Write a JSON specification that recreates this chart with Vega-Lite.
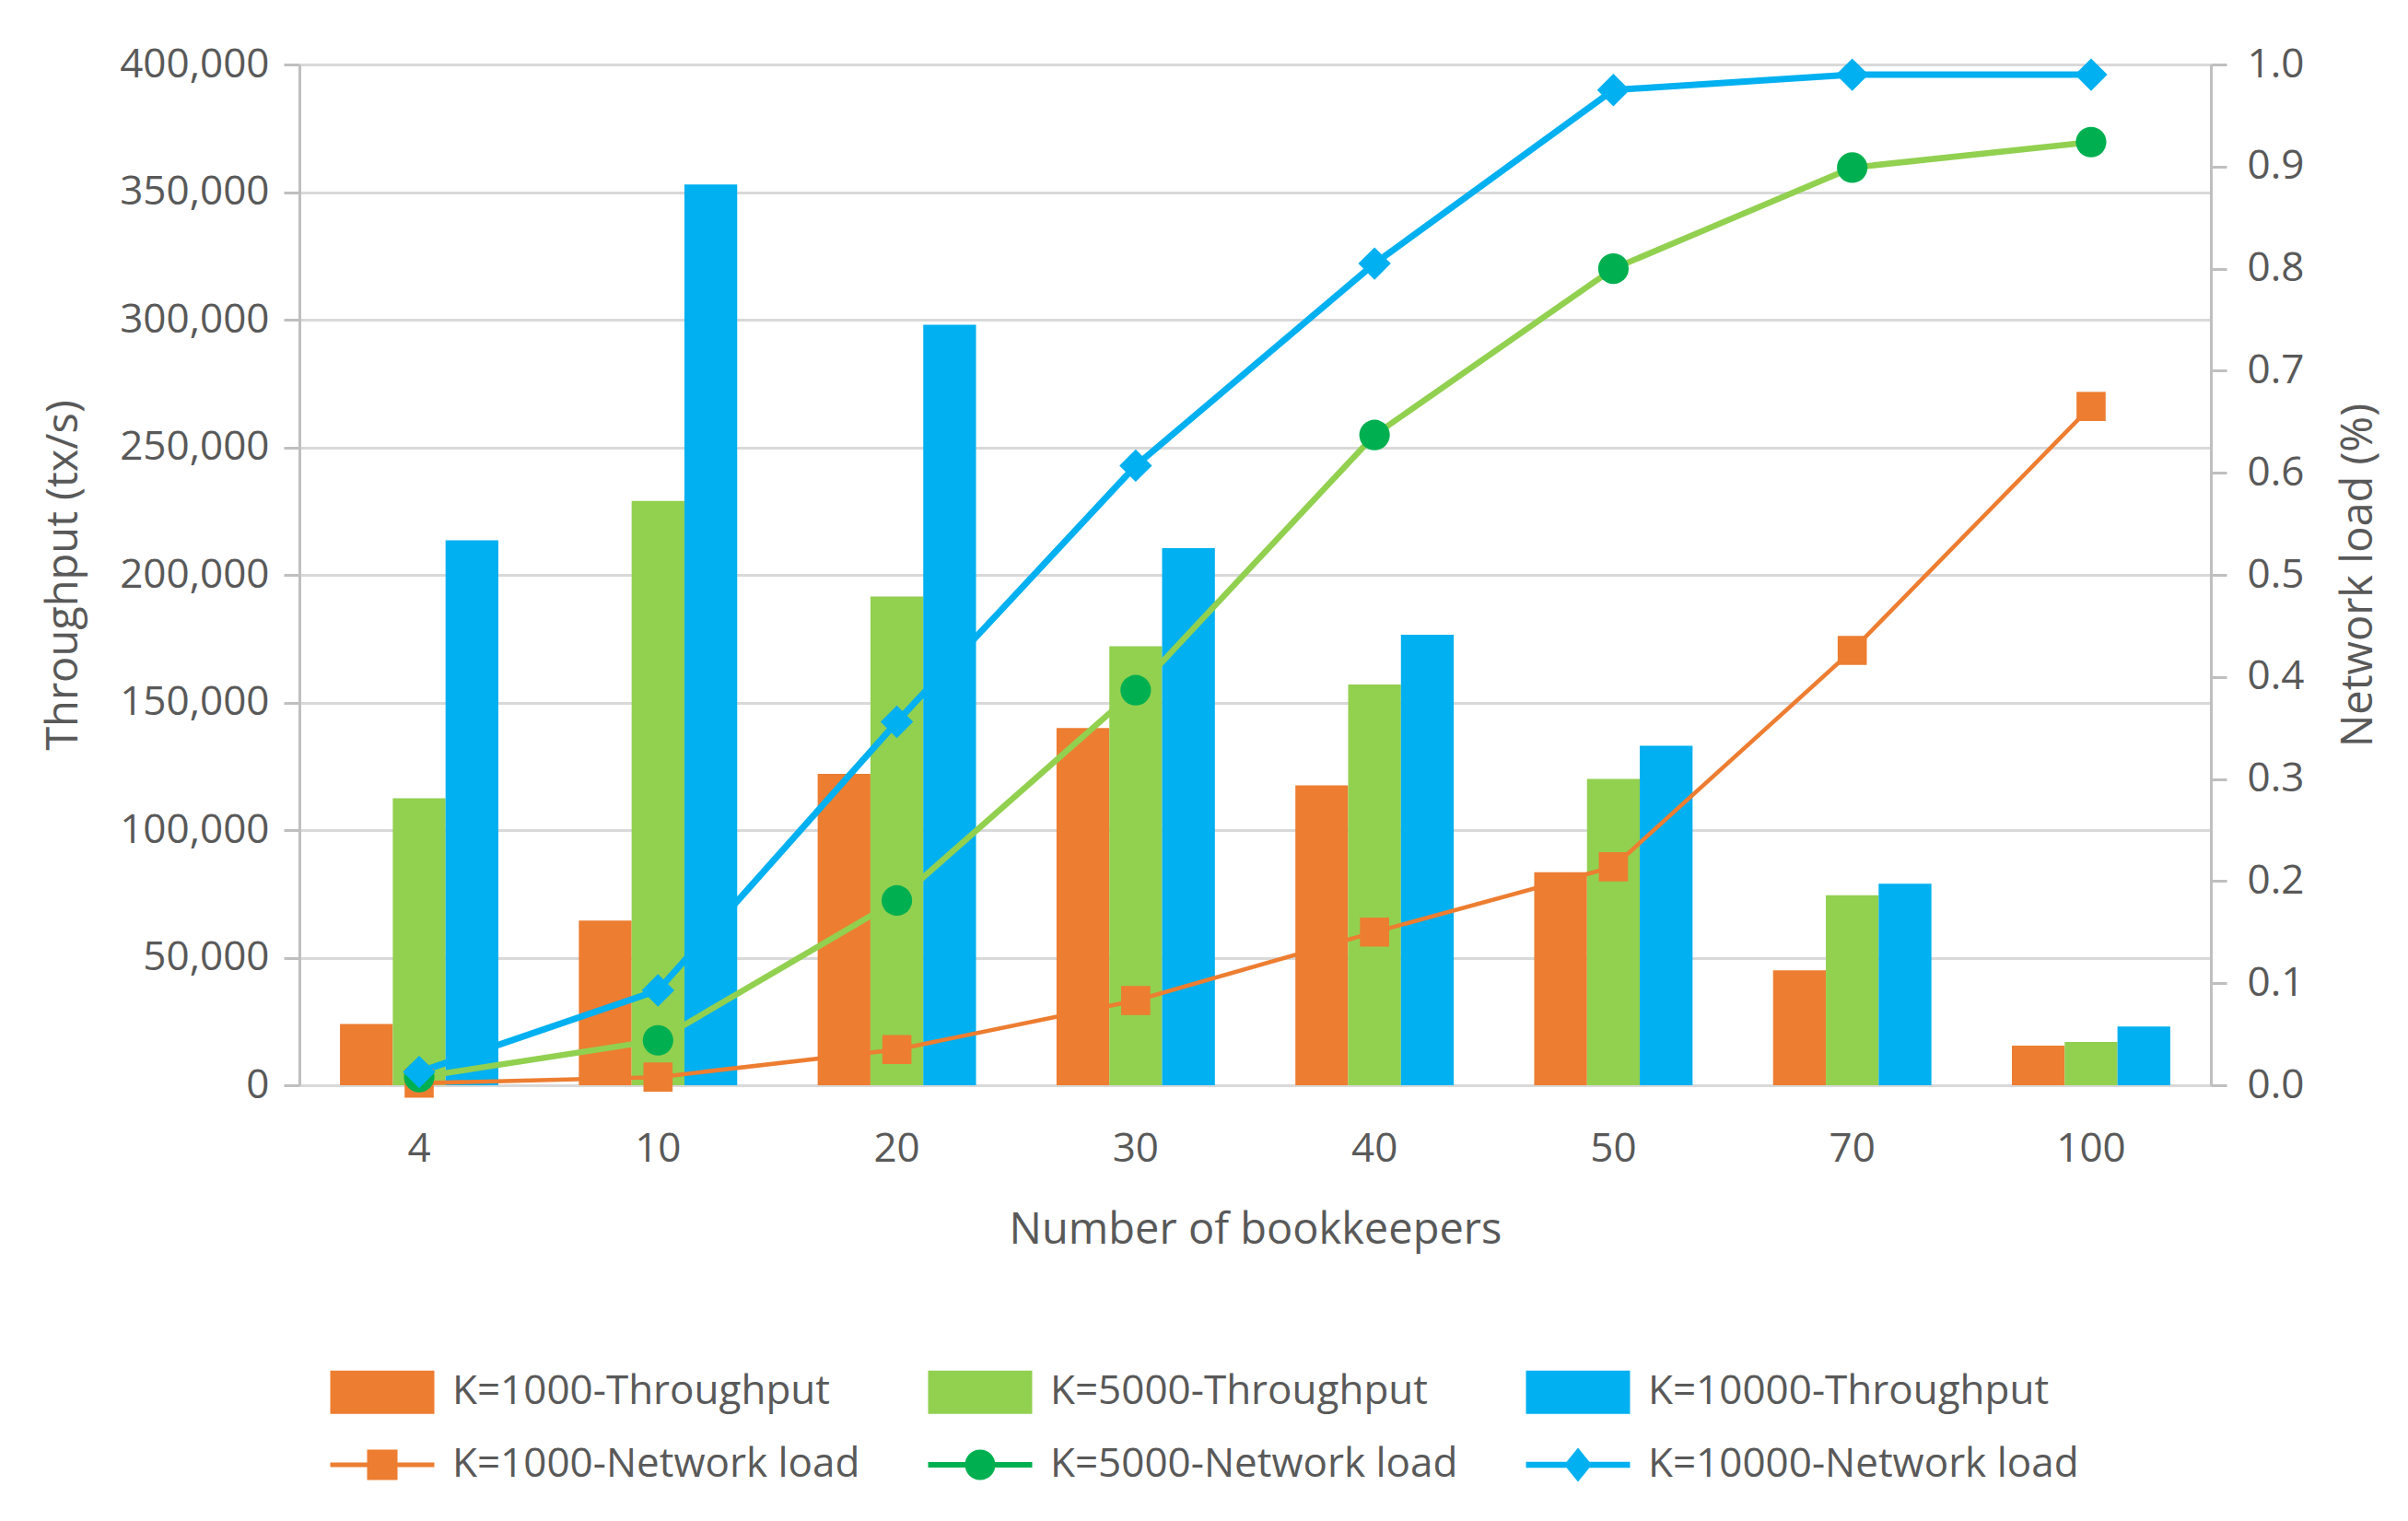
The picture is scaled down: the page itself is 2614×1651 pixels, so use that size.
{
  "$schema": "https://vega.github.io/schema/vega-lite/v6.json",
  "width": 2075,
  "height": 1108,
  "autosize": {"type": "none"},
  "padding": {"left": 325, "top": 70, "right": 214, "bottom": 473},
  "background": "white",
  "config": {
    "view": {"stroke": null},
    "font": "Open Sans",
    "axis": {
      "labelFont": "Open Sans",
      "labelFontSize": 44,
      "labelColor": "#595959",
      "titleFont": "Open Sans",
      "titleFontSize": 47,
      "titleColor": "#595959",
      "titleFontWeight": "normal",
      "domainColor": "#BFBFBF",
      "domainWidth": 3,
      "tickColor": "#BFBFBF",
      "tickWidth": 3,
      "tickSize": 17,
      "gridColor": "#D9D9D9",
      "gridWidth": 3
    }
  },
  "data": {
    "values": [
      {"n": 4, "k": 1000, "tp": 24000, "load": 0.002, "bs": "K=1000-Throughput", "ls": "K=1000-Network load"},
      {"n": 4, "k": 5000, "tp": 112500, "load": 0.008, "bs": "K=5000-Throughput", "ls": "K=5000-Network load"},
      {"n": 4, "k": 10000, "tp": 213500, "load": 0.013, "bs": "K=10000-Throughput", "ls": "K=10000-Network load"},
      {"n": 10, "k": 1000, "tp": 64500, "load": 0.008, "bs": "K=1000-Throughput", "ls": "K=1000-Network load"},
      {"n": 10, "k": 5000, "tp": 229000, "load": 0.044, "bs": "K=5000-Throughput", "ls": "K=5000-Network load"},
      {"n": 10, "k": 10000, "tp": 353000, "load": 0.093, "bs": "K=10000-Throughput", "ls": "K=10000-Network load"},
      {"n": 20, "k": 1000, "tp": 122000, "load": 0.035, "bs": "K=1000-Throughput", "ls": "K=1000-Network load"},
      {"n": 20, "k": 5000, "tp": 191500, "load": 0.181, "bs": "K=5000-Throughput", "ls": "K=5000-Network load"},
      {"n": 20, "k": 10000, "tp": 298000, "load": 0.356, "bs": "K=10000-Throughput", "ls": "K=10000-Network load"},
      {"n": 30, "k": 1000, "tp": 140000, "load": 0.083, "bs": "K=1000-Throughput", "ls": "K=1000-Network load"},
      {"n": 30, "k": 5000, "tp": 172000, "load": 0.387, "bs": "K=5000-Throughput", "ls": "K=5000-Network load"},
      {"n": 30, "k": 10000, "tp": 210500, "load": 0.607, "bs": "K=10000-Throughput", "ls": "K=10000-Network load"},
      {"n": 40, "k": 1000, "tp": 117500, "load": 0.150, "bs": "K=1000-Throughput", "ls": "K=1000-Network load"},
      {"n": 40, "k": 5000, "tp": 157000, "load": 0.637, "bs": "K=5000-Throughput", "ls": "K=5000-Network load"},
      {"n": 40, "k": 10000, "tp": 176500, "load": 0.805, "bs": "K=10000-Throughput", "ls": "K=10000-Network load"},
      {"n": 50, "k": 1000, "tp": 83500, "load": 0.214, "bs": "K=1000-Throughput", "ls": "K=1000-Network load"},
      {"n": 50, "k": 5000, "tp": 120000, "load": 0.800, "bs": "K=5000-Throughput", "ls": "K=5000-Network load"},
      {"n": 50, "k": 10000, "tp": 133000, "load": 0.975, "bs": "K=10000-Throughput", "ls": "K=10000-Network load"},
      {"n": 70, "k": 1000, "tp": 45000, "load": 0.426, "bs": "K=1000-Throughput", "ls": "K=1000-Network load"},
      {"n": 70, "k": 5000, "tp": 74500, "load": 0.899, "bs": "K=5000-Throughput", "ls": "K=5000-Network load"},
      {"n": 70, "k": 10000, "tp": 79000, "load": 0.990, "bs": "K=10000-Throughput", "ls": "K=10000-Network load"},
      {"n": 100, "k": 1000, "tp": 15500, "load": 0.665, "bs": "K=1000-Throughput", "ls": "K=1000-Network load"},
      {"n": 100, "k": 5000, "tp": 17000, "load": 0.924, "bs": "K=5000-Throughput", "ls": "K=5000-Network load"},
      {"n": 100, "k": 10000, "tp": 23000, "load": 0.990, "bs": "K=10000-Throughput", "ls": "K=10000-Network load"}
    ]
  },
  "layer": [
    {
      "mark": {"type": "bar"},
      "encoding": {
        "x": {
          "field": "n",
          "type": "ordinal",
          "scale": {"paddingInner": 0.337, "paddingOuter": 0.17},
          "axis": {
            "title": "Number of bookkeepers",
            "labelAngle": 0,
            "ticks": false,
            "tickSize": 0,
            "domain": true,
            "domainColor": "#D9D9D9",
            "domainWidth": 3,
            "labelPadding": 47,
            "titlePadding": 43
          }
        },
        "xOffset": {
          "field": "bs",
          "type": "nominal",
          "scale": {"domain": ["K=1000-Throughput", "K=5000-Throughput", "K=10000-Throughput"], "paddingInner": 0, "paddingOuter": 0}
        },
        "y": {
          "field": "tp",
          "type": "quantitative",
          "scale": {"domain": [0, 400000], "nice": false},
          "axis": {
            "orient": "left",
            "title": "Throughput (tx/s)",
            "values": [0, 50000, 100000, 150000, 200000, 250000, 300000, 350000, 400000],
            "format": ",d",
            "grid": true,
            "labelPadding": 16,
            "titlePadding": 36
          }
        },
        "fill": {
          "field": "bs",
          "type": "nominal",
          "scale": {"domain": ["K=1000-Throughput", "K=5000-Throughput", "K=10000-Throughput"], "range": ["#ED7D31", "#92D050", "#00B0F0"]},
          "legend": null
        }
      }
    },
    {
      "encoding": {
        "x": {"field": "n", "type": "ordinal"},
        "y": {
          "field": "load",
          "type": "quantitative",
          "scale": {"domain": [0, 1], "nice": false},
          "axis": {
            "orient": "right",
            "title": "Network load (%)",
            "values": [0, 0.1, 0.2, 0.3, 0.4, 0.5, 0.6, 0.7, 0.8, 0.9, 1.0],
            "format": ".1f",
            "grid": false,
            "labelPadding": 22,
            "titleAngle": 270,
            "titleBaseline": "top",
            "titlePadding": 37
          }
        }
      },
      "layer": [
        {
          "transform": [{"filter": {"field": "k", "equal": 1000}}],
          "mark": {"type": "line", "color": "#ED7D31", "strokeWidth": 4.5}
        },
        {
          "transform": [{"filter": {"field": "k", "equal": 5000}}],
          "mark": {"type": "line", "color": "#92D050", "strokeWidth": 6.5}
        },
        {
          "transform": [{"filter": {"field": "k", "equal": 10000}}],
          "mark": {"type": "line", "color": "#00B0F0", "strokeWidth": 7}
        },
        {
          "transform": [{"filter": {"field": "k", "equal": 1000}}],
          "mark": {"type": "point", "filled": true, "opacity": 1, "shape": "square", "size": 1000, "color": "#ED7D31"}
        },
        {
          "transform": [{"filter": {"field": "k", "equal": 5000}}],
          "mark": {"type": "point", "filled": true, "opacity": 1, "shape": "circle", "size": 1100, "color": "#00B050"}
        },
        {
          "transform": [{"filter": {"field": "k", "equal": 10000}}],
          "mark": {"type": "point", "filled": true, "opacity": 1, "shape": "diamond", "size": 1250, "color": "#00B0F0"}
        }
      ]
    },
    {
      "data": {"values": []},
      "mark": {"type": "point", "filled": true, "opacity": 1},
      "encoding": {
        "color": {
          "field": "ls",
          "type": "nominal",
          "scale": {
            "domain": ["K=1000-Throughput", "K=5000-Throughput", "K=10000-Throughput", "K=1000-Network load", "K=5000-Network load", "K=10000-Network load"],
            "range": ["#ED7D31", "#92D050", "#00B0F0", "#ED7D31", "#00B050", "#00B0F0"]
          },
          "legend": {
            "title": null,
            "orient": "none",
            "legendX": 60,
            "legendY": 1411,
            "direction": "horizontal",
            "columns": 3,
            "gridAlign": "all",
            "columnPadding": 48,
            "rowPadding": 25,
            "symbolSize": 3600,
            "symbolStrokeWidth": 0,
            "symbolOpacity": 1,
            "labelOffset": 46,
            "labelFont": "Open Sans",
            "labelFontSize": 44,
            "labelColor": "#595959",
            "labelLimit": 1000,
            "padding": 0
          }
        },
        "shape": {
          "field": "ls",
          "type": "nominal",
          "scale": {
            "domain": ["K=1000-Throughput", "K=5000-Throughput", "K=10000-Throughput", "K=1000-Network load", "K=5000-Network load", "K=10000-Network load"],
            "range": [
              "M-1.883,-0.783H1.883V0.783H-1.883Z",
              "M-1.883,-0.783H1.883V0.783H-1.883Z",
              "M-1.883,-0.783H1.883V0.783H-1.883Z",
              "M-1.883,-0.085H1.883V0.085H-1.883Z M-0.55,-0.55H0.55V0.55H-0.55Z",
              "M-1.883,-0.1H1.883V0.1H-1.883Z M-0.55,0A0.55,0.55 0 1,1 0.55,0A0.55,0.55 0 1,1 -0.55,0Z",
              "M-1.883,-0.11H1.883V0.11H-1.883Z M0,-0.62L0.5,0L0,0.62L-0.5,0Z"
            ]
          },
          "legend": {
            "title": null,
            "orient": "none",
            "legendX": 60,
            "legendY": 1411,
            "direction": "horizontal",
            "columns": 3,
            "gridAlign": "all",
            "columnPadding": 48,
            "rowPadding": 25,
            "symbolSize": 3600,
            "symbolStrokeWidth": 0,
            "symbolOpacity": 1,
            "labelOffset": 46,
            "labelFont": "Open Sans",
            "labelFontSize": 44,
            "labelColor": "#595959",
            "labelLimit": 1000,
            "padding": 0
          }
        }
      }
    }
  ],
  "resolve": {"scale": {"y": "independent"}, "axis": {"y": "independent"}}
}
